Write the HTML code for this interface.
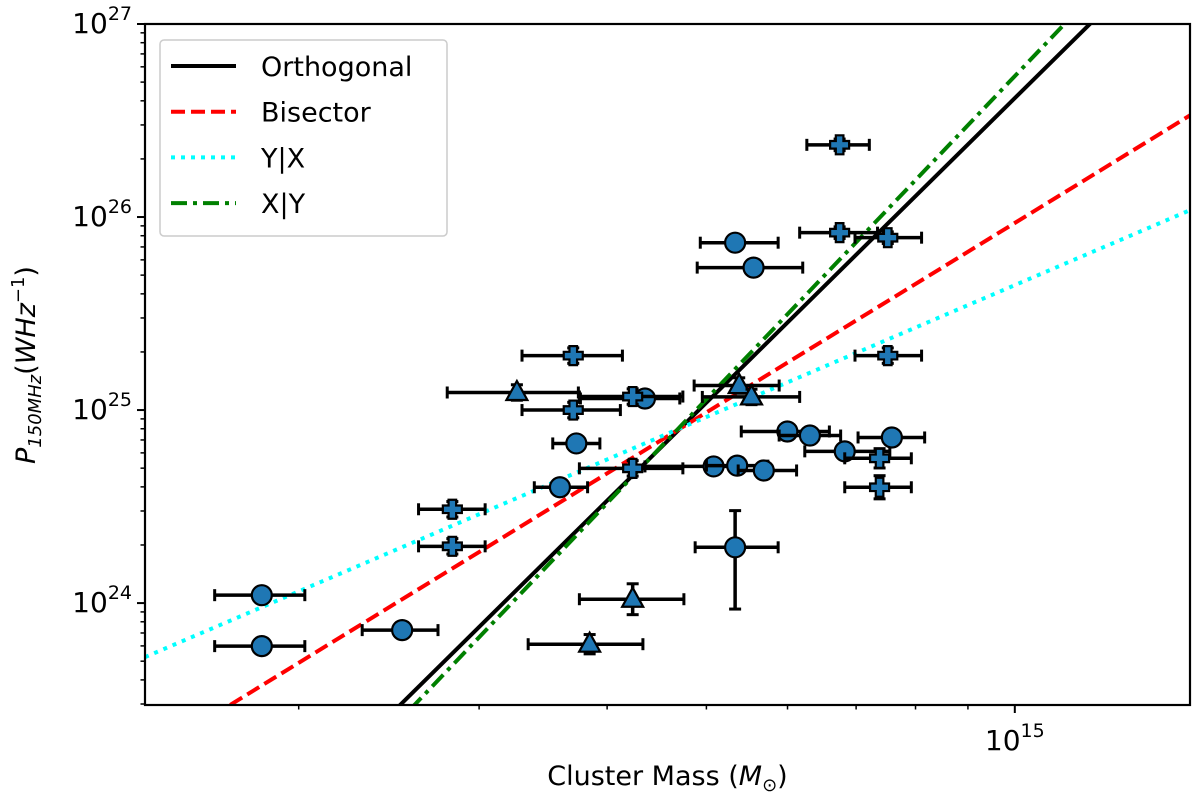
<!DOCTYPE html>
<html><head><meta charset="utf-8"><style>
html,body{margin:0;background:#fff;width:1200px;height:805px;overflow:hidden}
svg{display:block;font-family:"DejaVu Sans","Liberation Sans",sans-serif}
</style></head><body>
<svg id="chart" width="1200" height="805" viewBox="0 0 1200 805"></svg>
<script>
// data (log10 values)
const circMass=[14.265,14.265,14.402,14.556,14.572,14.639,14.706,14.729,14.755,14.727,14.727,14.745,14.778,14.800,14.834,14.880];
const circPow=[24.041,23.777,23.860,24.600,24.827,25.060,24.708,24.712,24.687,24.289,25.867,25.738,24.889,24.868,24.786,24.858];
const circXLo=[0.046,0.046,0.039,0.025,0.023,0.063,0.067,0.03,0.025,0.039,0.034,0.055,0.045,0.03,0.039,0.033];
const circXHi=[0.042,0.042,0.035,0.027,0.023,0.034,0.03,0.03,0.032,0.042,0.042,0.048,0.041,0.03,0.044,0.032];
const circYLo=[0.03,0.04,0.03,0.03,0.03,0.02,0.03,0.03,0.04,0.32,0.02,0.02,0.04,0.03,0.04,0.03];
const circYHi=[0.03,0.03,0.03,0.03,0.03,0.02,0.03,0.03,0.03,0.19,0.02,0.02,0.04,0.03,0.04,0.03];
const plusMass=[14.451,14.451,14.569,14.569,14.627,14.627,14.829,14.829,14.876,14.876,14.868,14.868];
const plusPow=[24.486,24.294,25.282,25.000,25.070,24.698,26.374,25.919,25.893,25.282,24.750,24.600];
const plusXLo=[0.033,0.033,0.05,0.05,0.052,0.052,0.032,0.039,0.032,0.032,0.034,0.034];
const plusXHi=[0.032,0.032,0.048,0.046,0.049,0.049,0.029,0.037,0.033,0.033,0.031,0.031];
const plusYLo=[0.04,0.04,0.04,0.04,0.04,0.04,0.03,0.03,0.03,0.04,0.05,0.06];
const plusYHi=[0.04,0.04,0.04,0.04,0.04,0.04,0.03,0.03,0.03,0.04,0.05,0.06];
const triMass=[14.514,14.731,14.743,14.627,14.585];
const triPow=[25.091,25.127,25.068,24.020,23.787];
const triXLo=[0.068,0.044,0.048,0.052,0.06];
const triXHi=[0.06,0.039,0.047,0.05,0.052];
const triYLo=[0.04,0.04,0.04,0.08,0.05];
const triYHi=[0.04,0.04,0.04,0.08,0.05];
const fitNames=["Orthogonal","Bisector","Y|X","X|Y"];
const fitSlope=[5.24,3.26,2.27,5.56];
const fitX0=[14.400,14.234,14.151,14.414];
const fitY0=[23.472,23.472,23.720,23.472];
const yTicks=[24,25,26,27];
const xTicks=[15];
const xMinor=[2,3,4,5,6,7,8,9];

const L=145,R=1190,T=24,B=705;
const xMin=14.151,xMax=15.171,yMin=23.472,yMax=27;
const X=v=>L+(v-xMin)/(xMax-xMin)*(R-L);
const Y=v=>B-(v-yMin)/(yMax-yMin)*(B-T);
const svg=document.getElementById('chart');
const NS='http://www.w3.org/2000/svg';
function mk(tag,at,parent){const e=document.createElementNS(NS,tag);for(const k in at)e.setAttribute(k,at[k]);(parent||svg).appendChild(e);return e;}

const defs=mk('defs',{});
const cp=mk('clipPath',{id:'clip'},defs);mk('rect',{x:L,y:T,width:R-L,height:B-T},cp);
const plot=mk('g',{'clip-path':'url(#clip)'});



const styles=[{c:'#000',d:''},{c:'#ff0000',d:'14,6'},{c:'#00ffff',d:'4,6'},{c:'#008000',d:'16,6,4,6'}];
for(let i=0;i<fitNames.length;i++){
  const x1=xMin,x2=xMax;
  const l=mk('line',{x1:X(x1),y1:Y(fitY0[i]+fitSlope[i]*(x1-fitX0[i])),x2:X(x2),y2:Y(fitY0[i]+fitSlope[i]*(x2-fitX0[i])),stroke:styles[i].c,'stroke-width':4,'stroke-dasharray':styles[i].d},plot);
  
  
}
function errbars(m,p,xl,xh,yl,yh,g){
  const x=X(m),y=Y(p),xa=X(m-xl),xb=X(m+xh),ya=Y(p-yl),yb=Y(p+yh);
  mk('line',{x1:xa,y1:y,x2:xb,y2:y,stroke:'#000','stroke-width':3.5},g);
  mk('line',{x1:xa,y1:y-6,x2:xa,y2:y+6,stroke:'#000','stroke-width':3},g);
  mk('line',{x1:xb,y1:y-6,x2:xb,y2:y+6,stroke:'#000','stroke-width':3},g);
  mk('line',{x1:x,y1:ya,x2:x,y2:yb,stroke:'#000','stroke-width':3.5},g);
  mk('line',{x1:x-6,y1:ya,x2:x+6,y2:ya,stroke:'#000','stroke-width':3},g);
  mk('line',{x1:x-6,y1:yb,x2:x+6,y2:yb,stroke:'#000','stroke-width':3},g);
}
const fill='#1f77b4';
for(let i=0;i<circMass.length;i++){
  const g=mk('g',{},plot);
  
  
  errbars(circMass[i],circPow[i],circXLo[i],circXHi[i],circYLo[i],circYHi[i],g);
  mk('circle',{cx:X(circMass[i]),cy:Y(circPow[i]),r:10,fill:fill,stroke:'#000','stroke-width':2.2},g);
}
for(let i=0;i<plusMass.length;i++){
  const g=mk('g',{},plot);
  
  
  errbars(plusMass[i],plusPow[i],plusXLo[i],plusXHi[i],plusYLo[i],plusYHi[i],g);
  const x=X(plusMass[i]),y=Y(plusPow[i]),a=3.8,b=9.5;
  mk('path',{d:`M${x-a},${y-b}H${x+a}V${y-a}H${x+b}V${y+a}H${x+a}V${y+b}H${x-a}V${y+a}H${x-b}V${y-a}H${x-a}Z`,fill:fill,stroke:'#000','stroke-width':2.2},g);
}
for(let i=0;i<triMass.length;i++){
  const g=mk('g',{},plot);
  
  
  errbars(triMass[i],triPow[i],triXLo[i],triXHi[i],triYLo[i],triYHi[i],g);
  const x=X(triMass[i]),y=Y(triPow[i]);
  mk('path',{d:`M${x},${y-11.5}L${x+10.5},${y+7.5}L${x-10.5},${y+7.5}Z`,fill:fill,stroke:'#000','stroke-width':2.2},g);
}

const frame=mk('rect',{x:L,y:T,width:R-L,height:B-T,fill:'none',stroke:'#000','stroke-width':2.2});


for(const t of yTicks){
  mk('line',{x1:L-8,y1:Y(t),x2:L,y2:Y(t),stroke:'#000','stroke-width':2});
  const tx=mk('text',{x:L-13,y:Y(t)+9,'text-anchor':'end','font-size':28});
  
  
  tx.innerHTML=`10<tspan dy="-13" font-size="19">${t}</tspan>`;
  for(let k=2;k<=9;k++){const v=t-1+Math.log10(k);if(v>yMin&&v<yMax)mk('line',{x1:L-4.5,y1:Y(v),x2:L,y2:Y(v),stroke:'#000','stroke-width':1.5});}
}
for(const k of xMinor){const v=14+Math.log10(k);if(v>xMin)mk('line',{x1:X(v),y1:B,x2:X(v),y2:B+4.5,stroke:'#000','stroke-width':1.5});}
for(const t of xTicks){
  mk('line',{x1:X(t),y1:B,x2:X(t),y2:B+8,stroke:'#000','stroke-width':2});
  const tx=mk('text',{x:X(t),y:B+45,'text-anchor':'middle','font-size':28});
  
  
  tx.innerHTML=`10<tspan dy="-13" font-size="19">${t}</tspan>`;
}
const xl=mk('text',{x:(L+R)/2,y:785,'text-anchor':'middle','font-size':27});


xl.innerHTML='Cluster Mass (<tspan font-style="italic">M</tspan><tspan font-size="18" dy="6">⊙</tspan><tspan dy="-6">)</tspan>';
const yl=mk('text',{transform:'translate(35,365) rotate(-90)','text-anchor':'middle','font-size':27});


yl.innerHTML='<tspan font-style="italic">P</tspan><tspan font-size="18" dy="6" font-style="italic">150MHz</tspan><tspan dy="-6">(</tspan><tspan font-style="italic">WHz</tspan><tspan font-size="18" dy="-11">−1</tspan><tspan dy="11">)</tspan>';

const lg=mk('g',{});


mk('rect',{x:160,y:40,width:287,height:196,rx:4,fill:'#fff',stroke:'#ccc','stroke-width':1.5},lg);
for(let i=0;i<fitNames.length;i++){
  const y=66+i*45.7;
  const e=mk('g',{},lg);
  
  
  mk('line',{x1:171,y1:y,x2:236,y2:y,stroke:styles[i].c,'stroke-width':4,'stroke-dasharray':styles[i].d},e);
  const t=mk('text',{x:261,y:y+10,'font-size':27},e);
  t.textContent=fitNames[i];
}
</script>
</body></html>
